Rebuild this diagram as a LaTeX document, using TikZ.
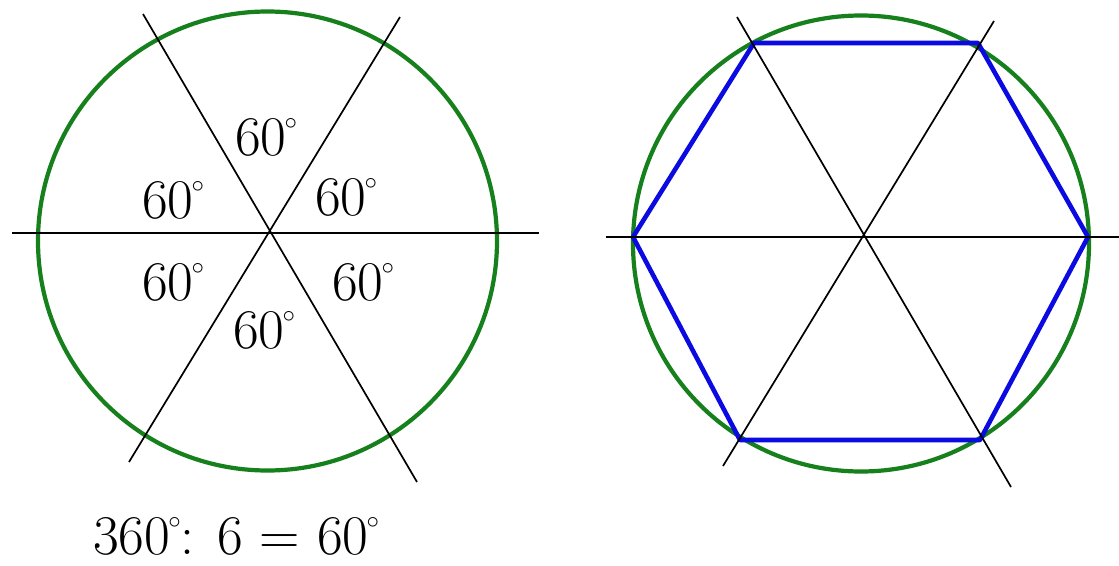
\documentclass[tikz,border=0pt]{standalone}
\usepackage{fontspec}
\definecolor{ringgreen}{RGB}{22,128,28}
\definecolor{hexblue}{RGB}{10,10,225}
\newcommand{\dgr}{\kern-2pt\raisebox{0.46em}{\fontsize{34}{34}\selectfont$\circ$}}
\begin{document}
\begin{tikzpicture}[x=1pt,y=-1pt,
  axisline/.style={line width=1.7pt, draw=black},
  ring/.style={line width=4.2pt, draw=ringgreen},
  hexa/.style={line width=4.6pt, draw=hexblue, line join=round},
  lbl/.style={font=\rmfamily\fontsize{56}{60}\selectfont, inner sep=0pt, anchor=base west}]
\useasboundingbox (0,0) rectangle (1119,565);
\fill[white] (0,0) rectangle (1119,565);

% ---------- left figure ----------
\coordinate (Lc) at (267.5,241);
\coordinate (Lh1) at (12,233);
\coordinate (Lh2) at (539,233);
\coordinate (La1) at (143,14);
\coordinate (La2) at (417,482);
\coordinate (Lb1) at (400,17);
\coordinate (Lb2) at (129,462);
\draw[ring] (Lc) circle (229.5pt);
\draw[axisline] (Lh1) -- (Lh2);
\draw[axisline] (La1) -- (La2);
\draw[axisline] (Lb1) -- (Lb2);

\node[lbl] (t)  at (235,155) {60\dgr};
\node[lbl] (ul) at (142,218) {60\dgr};
\node[lbl] (ur) at (315,215) {60\dgr};
\node[lbl] (ll) at (142,300) {60\dgr};
\node[lbl] (lr) at (332,300) {60\dgr};
\node[lbl] (b)  at (233,348) {60\dgr};
\node[lbl] (formula) at (93,554) {360\dgr: 6 = 60\dgr};

% ---------- right figure ----------
\coordinate (Rc) at (861,243.5);
\coordinate (Rh1) at (606,237);
\coordinate (Rh2) at (1119,237);
\coordinate (Ra1) at (737,17);
\coordinate (Ra2) at (1011,487);
\coordinate (Rb1) at (994,21);
\coordinate (Rb2) at (723,466);
\coordinate (H1) at (1088,237);
\coordinate (H2) at (978,43);
\coordinate (H3) at (754,43);
\coordinate (H4) at (633,237);
\coordinate (H5) at (740,440);
\coordinate (H6) at (980,440);
\draw[ring] (Rc) circle (228pt);
\draw[hexa] (H1) -- (H2) -- (H3) -- (H4) -- (H5) -- (H6) -- cycle;
\draw[axisline] (Rh1) -- (Rh2);
\draw[axisline] (Ra1) -- (Ra2);
\draw[axisline] (Rb1) -- (Rb2);
\end{tikzpicture}
\end{document}
